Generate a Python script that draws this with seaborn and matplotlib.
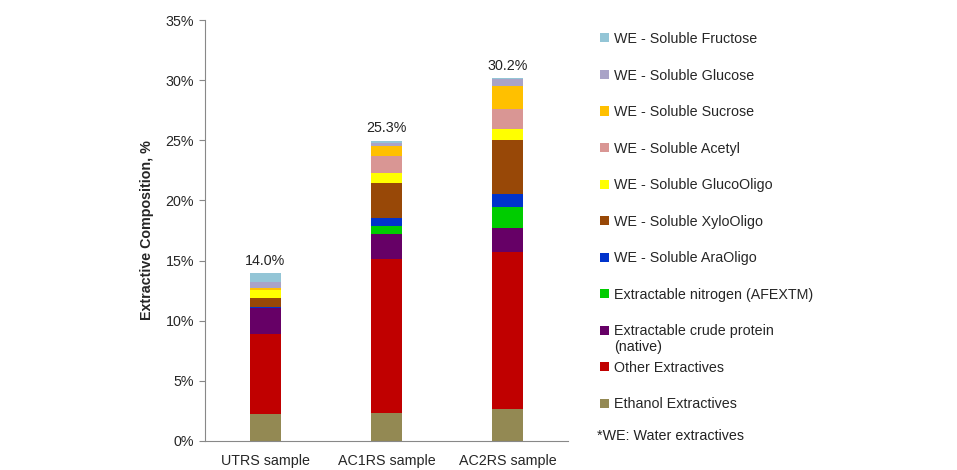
import numpy as np
import pandas as pd
import matplotlib
matplotlib.use("Agg")
import matplotlib.pyplot as plt
from matplotlib.patches import Patch
import seaborn as sns

sns.set_theme(style="white")
plt.rcParams['font.family'] = ['Liberation Sans', 'DejaVu Sans']

samples = ["UTRS sample", "AC1RS sample", "AC2RS sample"]
totals_text = ["14.0%", "25.3%", "30.2%"]

# components from bottom to top of each stack (values in %)
ethanol = [2.24, 2.30, 2.63]
other = [6.66, 12.83, 13.06]
crude_protein = [2.13, 2.08, 2.04]
nitrogen = [0.0, 0.66, 1.75]
ara_oligo = [0.11, 0.67, 1.05]
xylo_oligo = [0.72, 2.93, 4.49]
gluco_oligo = [0.69, 0.83, 0.92]
acetyl = [0.0, 1.42, 1.66]
sucrose = [0.16, 0.83, 1.91]
glucose = [0.50, 0.25, 0.56]
fructose = [0.72, 0.16, 0.08]

labels = ["Ethanol Extractives", "Other Extractives",
          "Extractable crude protein", "Extractable nitrogen (AFEXTM)",
          "WE - Soluble AraOligo", "WE - Soluble XyloOligo", "WE - Soluble GlucoOligo",
          "WE - Soluble Acetyl", "WE - Soluble Sucrose", "WE - Soluble Glucose",
          "WE - Soluble Fructose"]
colors = ["#938953", "#C00000", "#660066", "#00CC00", "#0033CC", "#984807",
          "#FFFF00", "#D99694", "#FFC000", "#A9A3C7", "#93C5D6"]
series = [ethanol, other, crude_protein, nitrogen, ara_oligo, xylo_oligo,
          gluco_oligo, acetyl, sucrose, glucose, fructose]

df = pd.DataFrame(np.array(series).T, columns=labels)
df["sample"] = samples
cum = df[labels].cumsum(axis=1)
cum["sample"] = samples

FS = 10.3
fig = plt.figure(figsize=(9.57, 4.70), dpi=100)
ax = fig.add_axes([205/957, 29/470, 363/957, 421/470])

# draw cumulative heights from the top down so lower layers cover upper ones
for lab, col in zip(labels[::-1], colors[::-1]):
    sns.barplot(data=cum, x="sample", y=lab, color=col, saturation=1,
                errorbar=None, width=0.25, linewidth=0, ax=ax)

tops = cum[labels[-1]].values
for i, (t, txt) in enumerate(zip(tops, totals_text)):
    ax.annotate(txt, (i, t), xytext=(0, 4), textcoords="offset points",
                ha="center", va="bottom", fontsize=FS, color="#222222")

ax.set_ylim(0, 35)
ax.set_yticks(np.arange(0, 36, 5))
ax.set_yticklabels([f"{v}%" for v in range(0, 36, 5)], fontsize=FS)
ax.tick_params(axis="x", labelsize=FS, length=0, pad=9)
ax.tick_params(axis="y", left=True, length=4, width=0.8, color="#888888", pad=4)
ax.set_xlabel("")
ax.set_ylabel("Extractive Composition, %", fontsize=FS, fontweight="bold", labelpad=8)
for s in ["top", "right"]:
    ax.spines[s].set_visible(False)
for s in ["left", "bottom"]:
    ax.spines[s].set_color("#888888")
    ax.spines[s].set_linewidth(0.8)

handles = [Patch(facecolor=c, edgecolor="none", label=l)
           for l, c in zip(labels[::-1], colors[::-1])]
fig.legend(handles=handles, loc="upper left", bbox_to_anchor=(600/957, 1 - 32/470),
           frameon=False, fontsize=FS, handlelength=0.6, handleheight=0.6,
           handletextpad=0.4, labelspacing=1.575, borderpad=0, borderaxespad=0)
# second line of the crude protein legend entry
fig.text(614/957, 1 - 347/470, "(native)", fontsize=FS, va="center", ha="left",
         color="#222222")
fig.text(597/957, 1 - 436/470, "*WE: Water extractives", fontsize=FS,
         va="center", ha="left", color="#222222")

fig.savefig("out.png", dpi=100)
